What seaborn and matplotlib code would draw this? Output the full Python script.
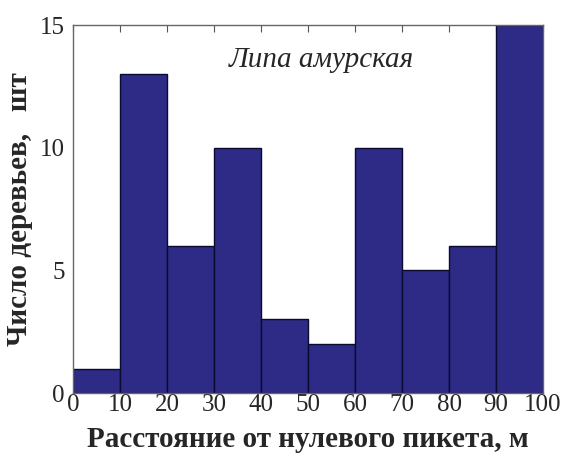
import numpy as np
import pandas as pd
import matplotlib
matplotlib.use('Agg')
import matplotlib.pyplot as plt
import seaborn as sns

# Tree counts per 10 m interval from the zero picket
bin_edges = [0, 10, 20, 30, 40, 50, 60, 70, 80, 90, 100]
bin_centers = [5, 15, 25, 35, 45, 55, 65, 75, 85, 95]
tree_counts = [1, 13, 6, 10, 3, 2, 10, 5, 6, 15]
x_ticks = [0, 10, 20, 30, 40, 50, 60, 70, 80, 90, 100]
y_ticks = [0, 5, 10, 15]

sns.set_style('white')
plt.rcParams['font.family'] = ['Liberation Serif', 'DejaVu Serif']

df = pd.DataFrame({'dist': bin_centers, 'count': tree_counts})

fig = plt.figure(figsize=(5.68, 4.63), dpi=100)
ax = fig.add_axes([0.1285, 0.151, 0.8275, 0.795])

sns.histplot(data=df, x='dist', weights='count', bins=bin_edges,
             color='#2e2b87', edgecolor='#0a0a30', linewidth=1.0,
             alpha=1.0, ax=ax)

ax.set_xlim(0, 100)
ax.set_ylim(0, 15)
ax.set_xticks(x_ticks)
ax.set_yticks(y_ticks)
ax.tick_params(axis='both', labelsize=18, length=5, color='#555555')
ax.tick_params(axis='x', top=True, direction='in', pad=1)
ax.tick_params(axis='y', direction='out', pad=1)
for s in ax.spines.values():
    s.set_color('#666666')
    s.set_linewidth(1.0)

ax.set_xlabel('Расстояние от нулевого пикета, м', fontsize=21,
              fontweight='bold', labelpad=7)
ax.set_ylabel('Число деревьев,   шт', fontsize=21, fontweight='bold',
              labelpad=5)
ax.text(0.528, 0.905, 'Липа амурская', transform=ax.transAxes,
        fontsize=21, style='italic', ha='center', va='center')

fig.savefig('out.png', dpi=100)
